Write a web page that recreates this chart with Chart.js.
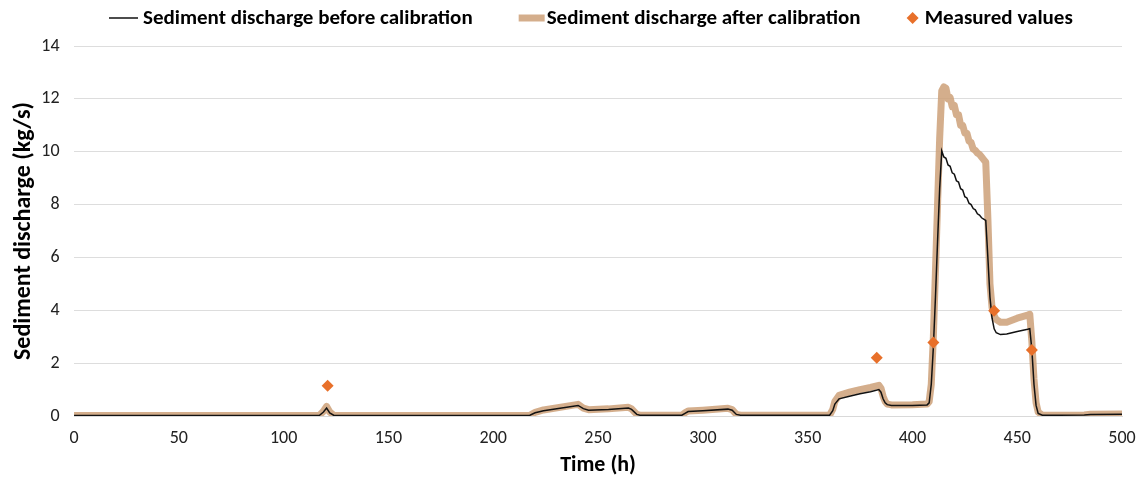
<!DOCTYPE html>
<html>
<head>
<meta charset="utf-8">
<script src="https://cdn.jsdelivr.net/npm/chart.js@4/dist/chart.umd.min.js"></script>
<style>
  html, body { margin: 0; padding: 0; background: #fff; }
  #wrap { width: 1140px; height: 482px; }
</style>
</head>
<body>
<div id="wrap"><canvas id="sed-chart"></canvas></div>
<script>
// time (h)
const hours = [
  0, 117, 119, 120.5, 122, 124, 200, 217.5, 220, 224, 240.5, 243, 245.5, 255, 264.5, 266, 268.5, 270,
  290, 291.5, 293, 300, 312, 314, 316, 318, 360.5, 362, 363, 365, 370, 375, 380, 384, 385, 386, 387,
  388, 390, 400, 407, 408, 409, 410, 411, 412, 413, 414, 415, 416, 417, 418, 419, 420, 421, 422, 423,
  424, 425, 426, 427, 428, 429, 430, 431, 432, 433, 434, 435, 436, 437, 438, 439, 440, 442, 445, 450,
  455, 456, 457, 458, 459, 460, 462, 470, 482, 485, 500
];
const beforeCal = [
  0.02, 0.02, 0.15, 0.3, 0.12, 0.02, 0.02, 0.03, 0.12, 0.2, 0.4, 0.28, 0.22, 0.25, 0.3, 0.25, 0.06, 0.03,
  0.03, 0.1, 0.17, 0.2, 0.26, 0.22, 0.06, 0.03, 0.03, 0.2, 0.45, 0.65, 0.75, 0.84, 0.92, 1.0, 0.9, 0.65, 0.5,
  0.43, 0.4, 0.4, 0.42, 0.5, 1.2, 2.6, 4.5, 6.6, 8.6, 10.03, 9.8, 9.75, 9.5, 9.45, 9.2, 9.15, 8.9, 8.85, 8.6,
  8.55, 8.3, 8.25, 8.05, 8.0, 7.85, 7.8, 7.65, 7.6, 7.5, 7.45, 7.4, 6.0, 4.5, 3.7, 3.3, 3.15, 3.08, 3.1, 3.2,
  3.28, 3.3, 2.5, 1.2, 0.4, 0.1, 0.03, 0.03, 0.04, 0.06, 0.07
];
const afterCal = [
  0.02, 0.02, 0.18, 0.36, 0.15, 0.02, 0.02, 0.03, 0.14, 0.23, 0.44, 0.3, 0.24, 0.27, 0.33, 0.27, 0.06, 0.03,
  0.03, 0.12, 0.19, 0.22, 0.29, 0.24, 0.06, 0.03, 0.03, 0.25, 0.55, 0.78, 0.9, 1.0, 1.08, 1.16, 1.05, 0.75, 0.55,
  0.45, 0.42, 0.43, 0.45, 0.55, 1.2, 3.0, 5.5, 8.0, 10.5, 12.3, 12.45, 12.4, 12.0, 12.05, 11.7, 11.75, 11.4, 11.4, 11.0,
  11.0, 10.7, 10.7, 10.4, 10.35, 10.1, 10.05, 9.95, 9.9, 9.8, 9.7, 9.6, 7.5, 5.0, 4.1, 3.8, 3.65, 3.55, 3.55, 3.7,
  3.82, 3.85, 2.8, 1.4, 0.5, 0.15, 0.03, 0.03, 0.04, 0.07, 0.08
];
// measured values
const measuredHours = [121, 383, 410, 439, 457];
const measuredVals = [1.14, 2.2, 2.78, 3.98, 2.5];

const xTicks = [0, 50, 100, 150, 200, 250, 300, 350, 400, 450, 500];
const yTicks = [0, 2, 4, 6, 8, 10, 12, 14];

const fontFam = "Carlito, 'Open Sans', sans-serif";

const toPoints = (xs, ys) => xs.map((x, i) => ({ x: x, y: ys[i] }));

// hand drawn legend row, Excel style: short line / diamond right before the text
const topLegend = {
  id: 'topLegend',
  afterDraw(chart) {
    const c = chart.ctx;
    const y = 18;
    const icons = [{ w: 29, gap: 5 }, { w: 26, gap: 2 }, { w: 12, gap: 6 }];
    let x = 109;
    c.save();
    c.font = 'bold 21px ' + fontFam;
    c.textBaseline = 'middle';
    c.fillStyle = '#000';
    chart.data.datasets.forEach((ds, i) => {
      const ic = icons[i];
      if (i === 2) {
        c.fillStyle = ds.backgroundColor;
        c.beginPath();
        c.moveTo(x + 6, y - 6);
        c.lineTo(x + 12, y);
        c.lineTo(x + 6, y + 6);
        c.lineTo(x, y);
        c.closePath();
        c.fill();
      } else {
        c.strokeStyle = ds.borderColor;
        c.lineWidth = ds.borderWidth;
        c.beginPath();
        c.moveTo(x, y);
        c.lineTo(x + ic.w, y);
        c.stroke();
      }
      x += ic.w + ic.gap;
      c.fillStyle = '#000';
      c.fillText(ds.label, x, y + 1);
      x += c.measureText(ds.label).width + 46;
    });
    c.restore();
  }
};

const ctx = document.getElementById('sed-chart').getContext('2d');
const sedChart = new Chart(ctx, {
  type: 'line',
  data: {
    datasets: [{
      label: 'Sediment discharge before calibration',
      data: toPoints(hours, beforeCal),
      borderColor: '#111111',
      backgroundColor: '#111111',
      borderWidth: 1.5,
      pointRadius: 0,
      tension: 0,
      order: 1
    }, {
      label: 'Sediment discharge after calibration',
      data: toPoints(hours, afterCal),
      borderColor: 'rgba(205,160,120,0.85)',
      backgroundColor: 'rgba(205,160,120,0.85)',
      borderWidth: 7,
      pointRadius: 0,
      tension: 0,
      borderJoinStyle: 'round',
      order: 2
    }, {
      label: 'Measured values',
      data: toPoints(measuredHours, measuredVals),
      showLine: false,
      pointStyle: 'rectRot',
      pointRadius: 6,
      borderWidth: 0,
      backgroundColor: '#E8702A',
      borderColor: '#E8702A',
      order: 0
    }]
  },
  plugins: [topLegend],
  options: {
    responsive: true,
    maintainAspectRatio: false,
    animation: false,
    layout: { padding: { left: 0, right: 18, top: 46, bottom: 2 } },
    plugins: {
      tooltip: { enabled: false },
      legend: { display: false }
    },
    scales: {
      x: {
        type: 'linear',
        min: 0,
        max: 500,
        afterBuildTicks: axis => { axis.ticks = xTicks.map(v => ({ value: v })); },
        afterFit: axis => { axis.paddingRight = 10; },
        grid: { display: false, drawTicks: false },
        border: { color: '#d9d9d9' },
        ticks: { color: '#222', padding: 12, font: { family: fontFam, size: 18 } },
        title: { display: true, text: 'Time (h)', color: '#000', padding: { top: -9, bottom: 1 }, font: { family: fontFam, size: 22, weight: 'bold' } }
      },
      y: {
        min: 0,
        max: 14,
        afterBuildTicks: axis => { axis.ticks = yTicks.map(v => ({ value: v })); },
        grid: { color: '#dddddd', drawTicks: false },
        border: { display: false },
        ticks: { color: '#222', padding: 14.5, font: { family: fontFam, size: 18 } },
        title: { display: true, text: 'Sediment discharge (kg/s)', color: '#000', padding: { top: 10, bottom: -12 }, font: { family: fontFam, size: 24, weight: 'bold' } }
      }
    }
  }
});
</script>
</body>
</html>
